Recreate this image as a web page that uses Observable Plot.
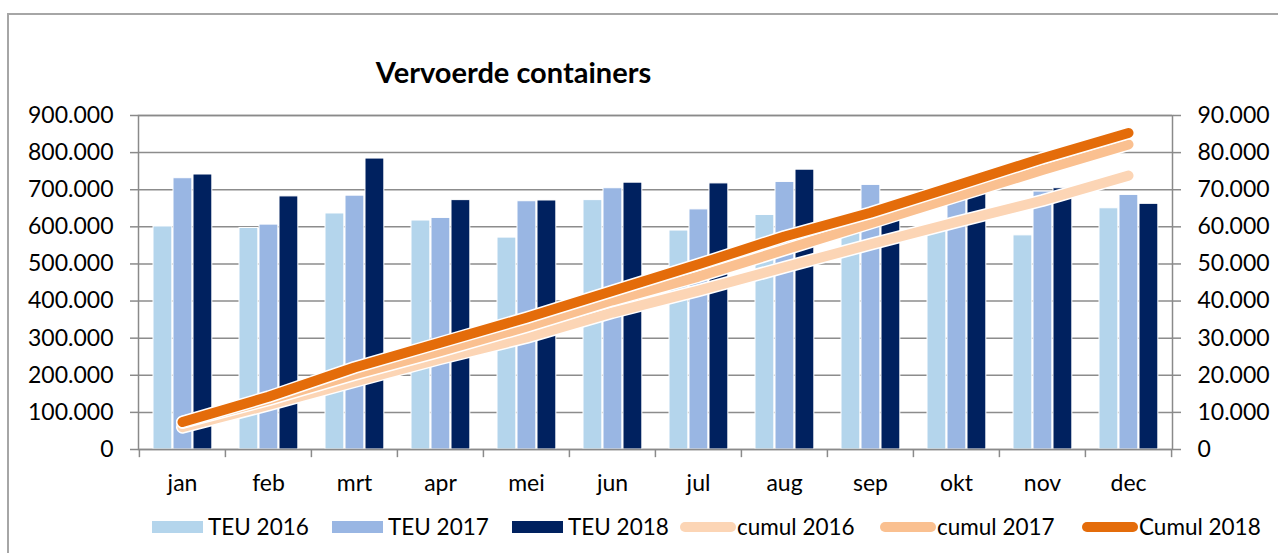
<!DOCTYPE html>
<html>
<head>
<meta charset="utf-8">
<script src="https://cdn.jsdelivr.net/npm/d3@7"></script>
<script src="https://cdn.jsdelivr.net/npm/@observablehq/plot@0.6"></script>
<style>
  html, body { margin: 0; padding: 0; background: #fff; overflow: hidden; width: 1278px; height: 553px; }
  #wrap { position: relative; width: 1278px; height: 553px; font-family: Lato, "Open Sans", sans-serif; }
  #border { position: absolute; left: 7px; top: 13px; width: 1300px; height: 600px; border: 2px solid #a6a6a6; box-sizing: border-box; }
  #chart { position: absolute; left: 0; top: 0; }
  #title { position: absolute; left: 0; width: 1027px; top: 54px; text-align: center; font-weight: bold; font-size: 29px; line-height: 36px; color: #000; }
  #legend { position: absolute; left: 0; top: 513px; width: 1278px; height: 30px; font-size: 22.5px; color: #000; line-height: 28px; }
  .item { position: absolute; top: 0; display: flex; align-items: center; white-space: nowrap; }
  .sw { width: 51px; height: 12px; margin-right: 5px; }
  .ln { width: 56px; height: 10px; border-radius: 5px; margin-right: 1px; }
  #chart svg g[aria-label="y-axis tick"] path, #chart svg g[aria-label="x-axis tick"] path { stroke: #8a8a8a; }
</style>
</head>
<body>
<div id="wrap">
  <div id="border"></div>
  <div id="chart"></div>
  <div id="title">Vervoerde containers</div>
  <div id="legend"></div>
</div>
<script>
// ---- data ----
const months = ["jan","feb","mrt","apr","mei","jun","jul","aug","sep","okt","nov","dec"];
const teu2016 = [601000, 597000, 636000, 617000, 571000, 672000, 590000, 632000, 615000, 600000, 577000, 650000];
const teu2017 = [731000, 606000, 684000, 624000, 669000, 704000, 647000, 721000, 713000, 720000, 695000, 686000];
const teu2018 = [741000, 682000, 784000, 672000, 671000, 719000, 717000, 754000, 640000, 725000, 704000, 662000];
// cumulative series, read on the right axis (0 – 90.000)
const cumul2016 = [6000, 12000, 18300, 24500, 30200, 36900, 42800, 49100, 55300, 61300, 67100, 73800];
const cumul2017 = [7300, 13400, 20200, 26500, 33100, 40200, 46600, 53800, 61000, 68200, 75300, 82200];
const cumul2018 = [7400, 14200, 22100, 28800, 35500, 42700, 49900, 57400, 63800, 71100, 78500, 85300];
const leftTicks = [0, 100000, 200000, 300000, 400000, 500000, 600000, 700000, 800000, 900000];
const leftLabels = ["0","100.000","200.000","300.000","400.000","500.000","600.000","700.000","800.000","900.000"];
const rightLabels = ["0","10.000","20.000","30.000","40.000","50.000","60.000","70.000","80.000","90.000"];
const barSeries = ["TEU 2016", "TEU 2017", "TEU 2018"];
const lineSeries = ["cumul 2016", "cumul 2017", "Cumul 2018"];

// ---- styles ----
const barColors = ["#b4d5ec", "#99b6e3", "#00215f"];
const lineColors = ["#fcd5b5", "#fac090", "#e46c0a"];
const lineWidths = [10, 10, 10];
const rightFactor = 10; // right axis value * 10 = left axis value

const W = 1278, H = 553;
const mL = 138, mR = 106, mT = 115, mB = 104;
const bw = (W - mL - mR) / months.length;
const barSpans = [[14, 33], [34, 53], [54, 73]];

const barData = [teu2016, teu2017, teu2018].map(vals => months.map((m, i) => ({month: m, value: vals[i]})));
const lineData = [cumul2016, cumul2017, cumul2018].map(vals => months.map((m, i) => ({month: m, value: vals[i] * rightFactor})));

const marks = [];
marks.push(Plot.gridY(leftTicks, {stroke: "#8c8c8c", strokeOpacity: 1, strokeWidth: 1.5}));
barData.forEach((d, k) => {
  marks.push(Plot.barY(d, {
    x: "month", y: "value", fill: barColors[k], stroke: "#ffffff", strokeWidth: 1,
    insetLeft: barSpans[k][0], insetRight: bw - barSpans[k][1]
  }));
});
marks.push(Plot.frame({stroke: "#8a8a8a", strokeWidth: 1.5}));
// category boundary ticks below the x axis
marks.push(Plot.ruleX(months, {x: d => d, dx: -bw / 2, y1: 0, y2: -22000, stroke: "#8a8a8a", strokeWidth: 1.5}));
marks.push(Plot.ruleX([months[months.length - 1]], {x: d => d, dx: bw / 2, y1: 0, y2: -22000, stroke: "#8a8a8a", strokeWidth: 1.5}));
lineData.forEach((d, k) => {
  marks.push(Plot.line(d, {x: "month", y: "value", stroke: "#ffffff", strokeWidth: lineWidths[k] + 3, strokeLinecap: "round", strokeLinejoin: "round"}));
  marks.push(Plot.line(d, {x: "month", y: "value", stroke: lineColors[k], strokeWidth: lineWidths[k], strokeLinecap: "round", strokeLinejoin: "round"}));
});
marks.push(Plot.axisY({anchor: "left", label: null, ticks: leftTicks, tickFormat: d => leftLabels[leftTicks.indexOf(d)], tickSize: 8, tickPadding: 17, fontSize: 23, strokeWidth: 1.5}));
marks.push(Plot.axisY({anchor: "right", label: null, ticks: leftTicks, tickFormat: d => rightLabels[leftTicks.indexOf(d)], tickSize: 8, tickPadding: 17, fontSize: 23, strokeWidth: 1.5}));
marks.push(Plot.axisX({label: null, tickSize: 0, tickPadding: 25, fontSize: 23}));

const chart = Plot.plot({
  width: W, height: H,
  marginLeft: mL, marginRight: mR, marginTop: mT, marginBottom: mB,
  style: {fontFamily: "Lato, 'Open Sans', sans-serif", color: "#000", background: "transparent", overflow: "visible"},
  x: {type: "band", domain: months, padding: 0, axis: null, label: null},
  y: {domain: [0, 900000], axis: null, label: null},
  marks
});
document.getElementById("chart").appendChild(chart);

// ---- legend ----
const legend = document.getElementById("legend");
const itemLeft = [152, 332, 512, 680, 880, 1082];
barSeries.forEach((s, k) => {
  const it = document.createElement("div");
  it.className = "item";
  it.style.left = itemLeft[k] + "px";
  it.innerHTML = `<div class="sw" style="background:${barColors[k]}"></div><span>${s}</span>`;
  legend.appendChild(it);
});
lineSeries.forEach((s, k) => {
  const it = document.createElement("div");
  it.className = "item";
  it.style.left = itemLeft[k + 3] + "px";
  it.innerHTML = `<div class="ln" style="background:${lineColors[k]}"></div><span>${s}</span>`;
  legend.appendChild(it);
});
</script>
</body>
</html>
